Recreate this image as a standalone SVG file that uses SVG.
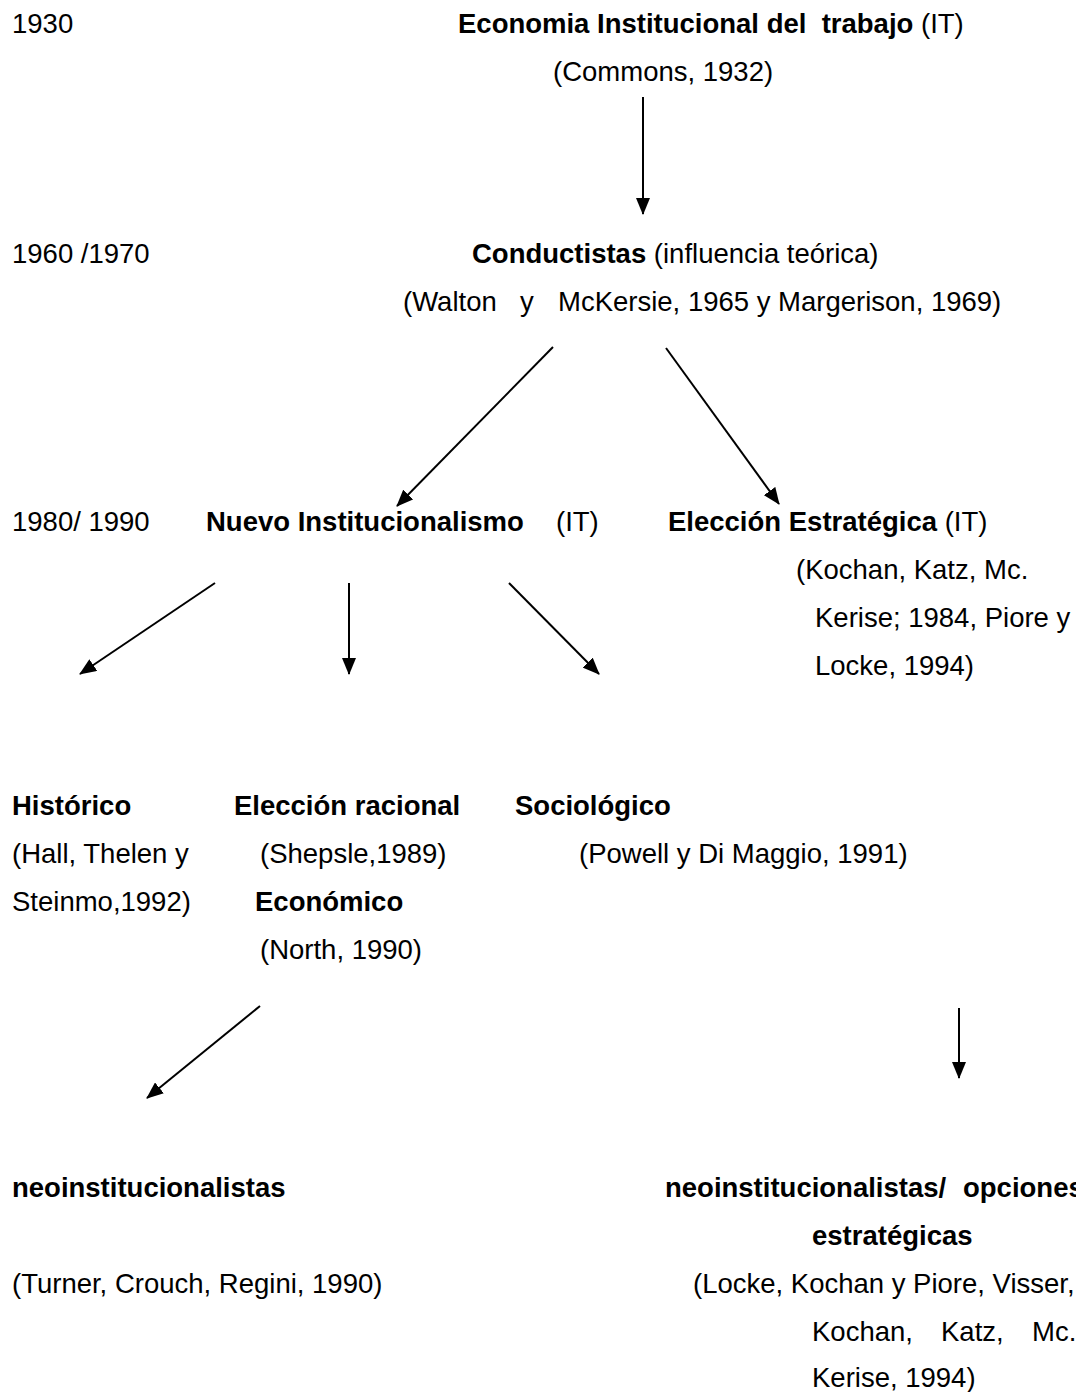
<svg xmlns="http://www.w3.org/2000/svg" width="1076" height="1392" viewBox="0 0 1076 1392">
  <style>
    text { font-family: "Liberation Sans", Arial, sans-serif; font-size: 27.5px; fill: #000; white-space: pre; }
    .b { font-weight: bold; }
    .edge { stroke: #000; stroke-width: 2; fill: none; marker-end: url(#head); }
  </style>
  <defs>
    <marker id="head" markerUnits="userSpaceOnUse" markerWidth="17" markerHeight="14" refX="16" refY="7" orient="auto">
      <path d="M0,0 L17,7 L0,14 Z" fill="#000"/>
    </marker>
  </defs>
  <rect width="1076" height="1392" fill="#fff"/>

  <!-- period labels -->
  <g id="periods">
    <text x="12" y="33">1930</text>
    <text x="12" y="263">1960 /1970</text>
    <text x="12" y="531">1980/ 1990</text>
  </g>

  <g id="n-it">
    <text x="458" y="33" xml:space="preserve"><tspan class="b">Economia Institucional del  trabajo</tspan> (IT)</text>
    <text x="553" y="81">(Commons, 1932)</text>
  </g>

  <g id="n-conductistas">
    <text x="472" y="263"><tspan class="b">Conductistas</tspan> (influencia teórica)</text>
    <text x="403" y="311">(Walton</text>
    <text x="520" y="311">y</text>
    <text x="558" y="311">McKersie, 1965 y Margerison, 1969)</text>
  </g>

  <g id="n-nuevo">
    <text x="206" y="531" class="b">Nuevo Institucionalismo</text>
    <text x="556" y="531">(IT)</text>
  </g>

  <g id="n-eleccion-estrategica">
    <text x="668" y="531"><tspan class="b">Elección Estratégica</tspan> (IT)</text>
    <text x="796" y="579">(Kochan, Katz, Mc.</text>
    <text x="815" y="627">Kerise; 1984, Piore y</text>
    <text x="815" y="675">Locke, 1994)</text>
  </g>

  <g id="n-historico">
    <text x="12" y="815" class="b">Histórico</text>
    <text x="12" y="863">(Hall, Thelen y</text>
    <text x="12" y="911">Steinmo,1992)</text>
  </g>

  <g id="n-racional">
    <text x="234" y="815" class="b">Elección racional</text>
    <text x="260" y="863">(Shepsle,1989)</text>
    <text x="255" y="911" class="b">Económico</text>
    <text x="260" y="959">(North, 1990)</text>
  </g>

  <g id="n-sociologico">
    <text x="515" y="815" class="b">Sociológico</text>
    <text x="579" y="863">(Powell y Di Maggio, 1991)</text>
  </g>

  <g id="n-neo">
    <text x="12" y="1197" class="b">neoinstitucionalistas</text>
    <text x="12" y="1293">(Turner, Crouch, Regini, 1990)</text>
  </g>

  <g id="n-neo-opciones">
    <text x="665" y="1197" class="b">neoinstitucionalistas/</text>
    <text x="963" y="1197" class="b">opciones</text>
    <text x="812" y="1245" class="b">estratégicas</text>
    <text x="693" y="1293">(Locke, Kochan y Piore, Visser,</text>
    <text x="812" y="1341">Kochan,</text>
    <text x="941" y="1341">Katz,</text>
    <text x="1032" y="1341">Mc.</text>
    <text x="812" y="1387">Kerise, 1994)</text>
  </g>

  <g id="connectors">
    <line class="edge" x1="643" y1="97" x2="643" y2="214"/>
    <line class="edge" x1="553" y1="347" x2="397" y2="506"/>
    <line class="edge" x1="666" y1="348" x2="779" y2="504"/>
    <line class="edge" x1="215" y1="583" x2="80" y2="674"/>
    <line class="edge" x1="349" y1="583" x2="349" y2="674"/>
    <line class="edge" x1="509" y1="583" x2="599" y2="674"/>
    <line class="edge" x1="260" y1="1006" x2="147" y2="1098"/>
    <line class="edge" x1="959" y1="1008" x2="959" y2="1078"/>
  </g>
</svg>
